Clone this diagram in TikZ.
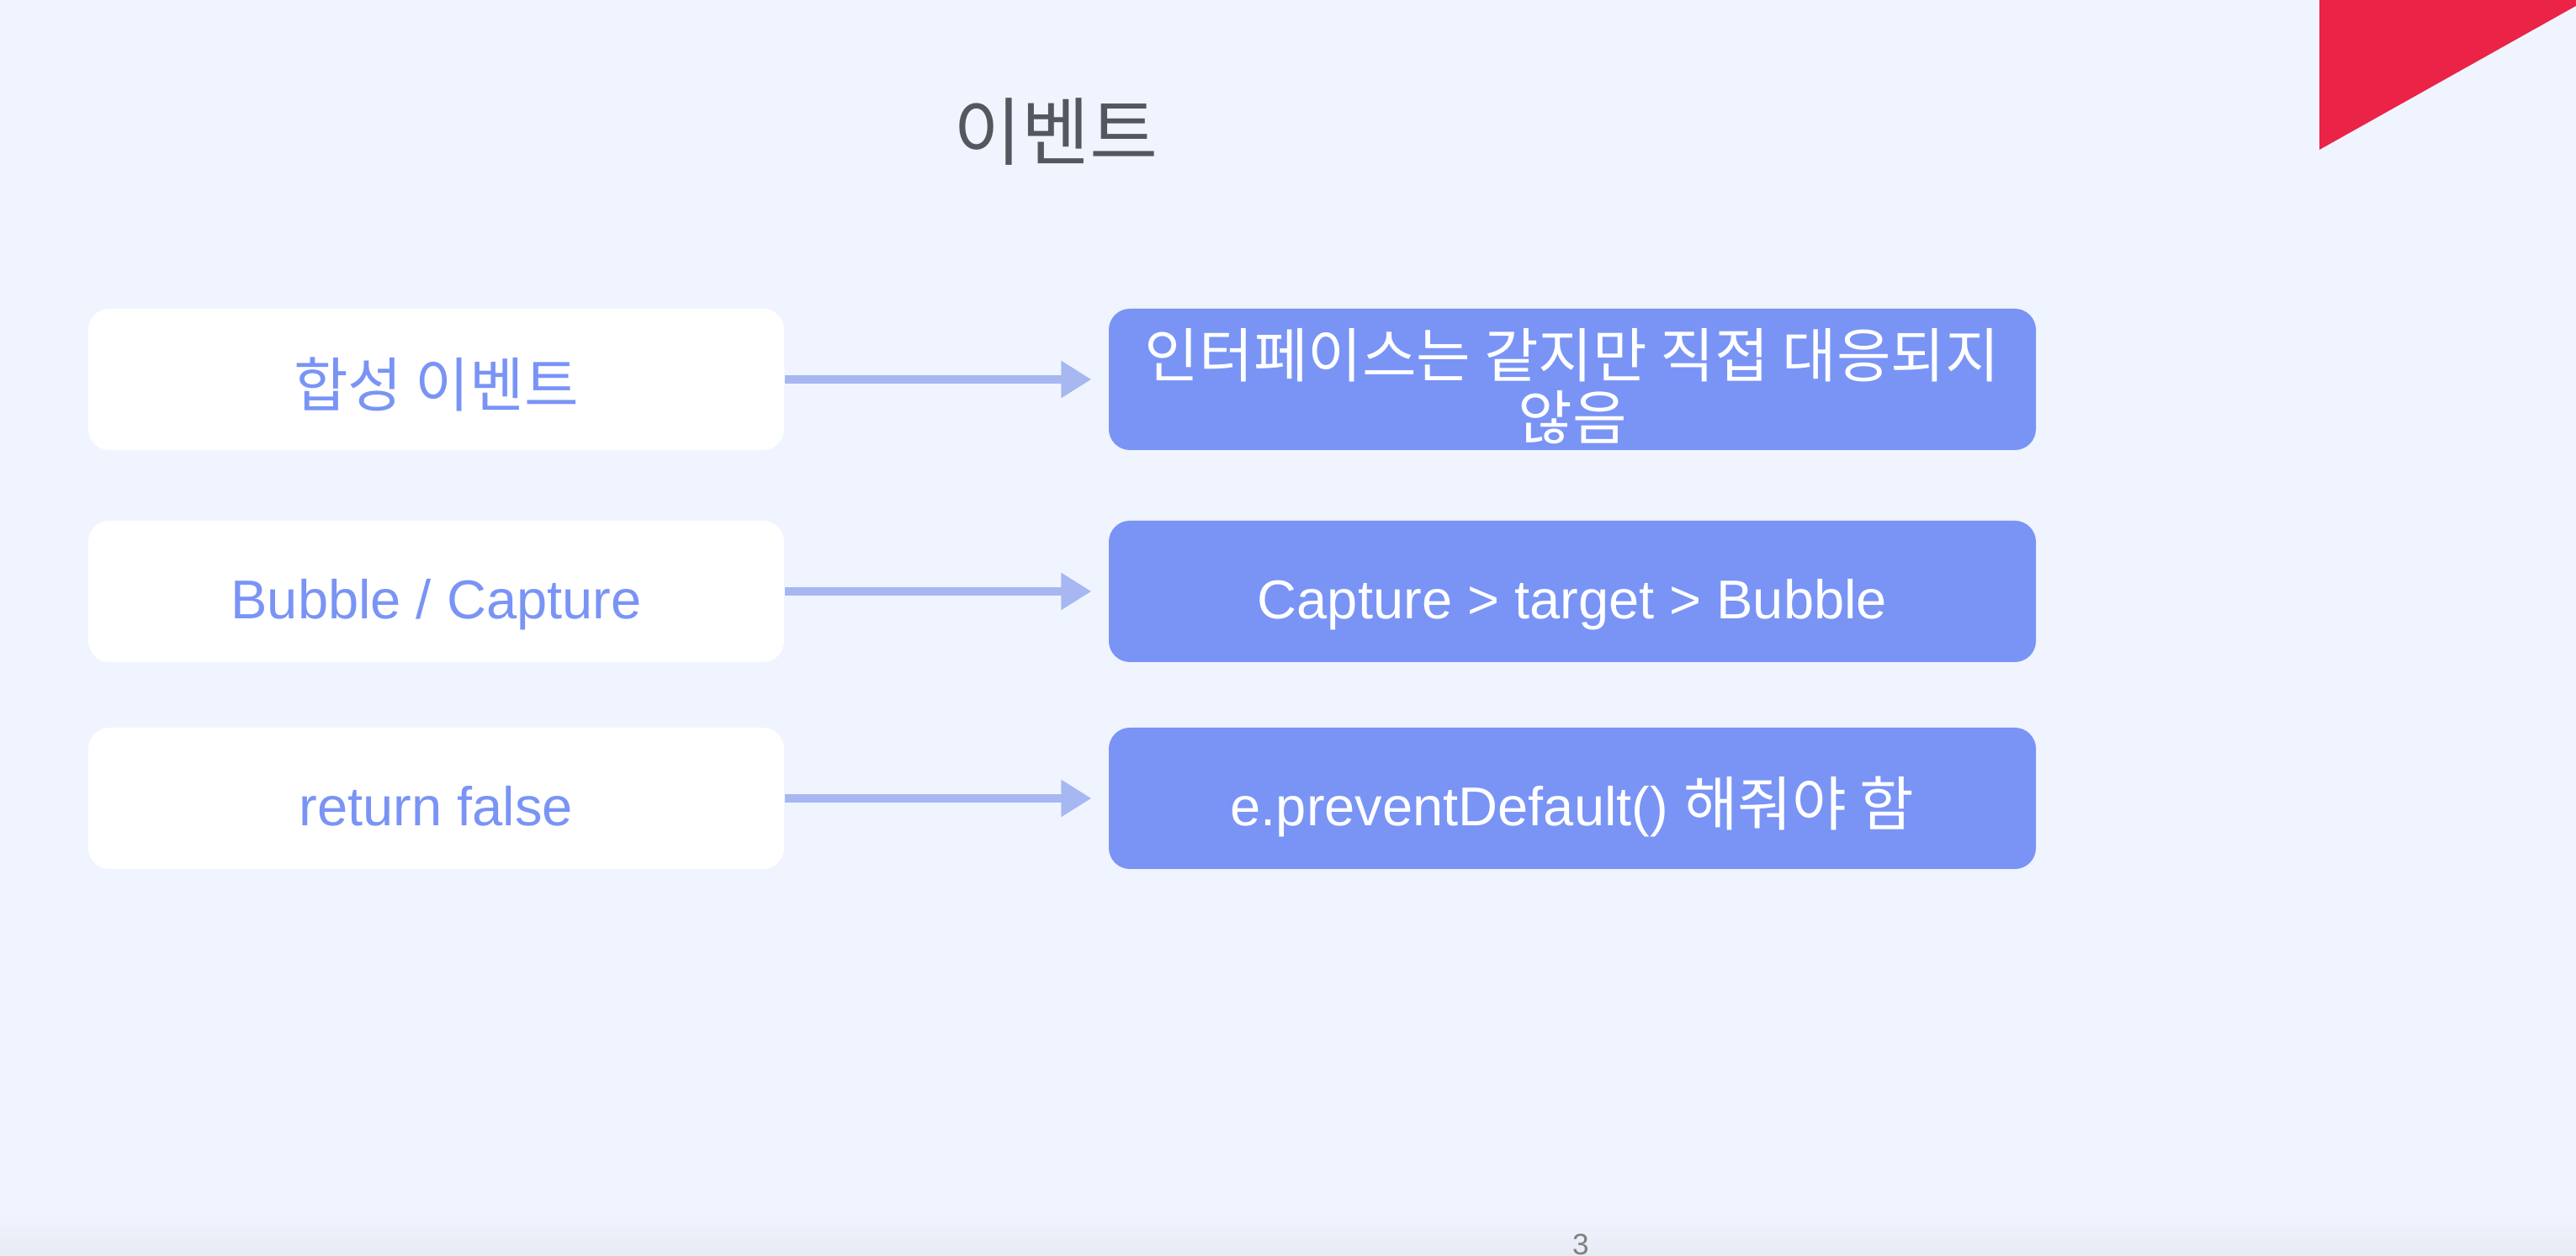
\documentclass[tikz,border=0pt]{standalone}
\usepackage{fontspec}
\setmainfont{Liberation Sans}
\newfontfamily\kr[Scale=1.08]{Noto Sans CJK KR}
\usetikzlibrary{arrows.meta,shapes}

\definecolor{fondo}{RGB}{240,244,254}
\definecolor{azul}{RGB}{121,148,245}
\definecolor{flecha}{RGB}{166,183,242}
\definecolor{rojo}{RGB}{234,35,71}
\definecolor{gris}{RGB}{84,87,94}

\begin{document}
\begin{tikzpicture}[x=1cm,y=1cm,
izq/.style ={rectangle, fill=white, align=center, rounded corners=0.25cm, minimum height=1.68cm, minimum width=8.27cm, text=azul, text height=0.66cm, text depth=0cm, font=\fontsize{18.5}{21.3}\selectfont},
der/.style ={rectangle, fill=azul, align=center, rounded corners=0.25cm, minimum height=1.68cm, minimum width=11.02cm, text=white, text height=0.66cm, text depth=0cm, font=\fontsize{18.5}{21.3}\selectfont},
flujo/.style ={draw=flecha, line width=0.1cm, -{Triangle[length=0.36cm,width=0.42cm]}, shorten >=0.2cm}]

\useasboundingbox (0,0) rectangle (30.62,14.93);
\fill[fondo] (0,0) rectangle (30.62,14.93);
\shade[top color=fondo, bottom color=fondo!92!gray] (0,0) rectangle (30.62,0.5);
\fill[rojo] (27.57,14.93) -- (30.62,14.93) -- (30.62,14.86) -- (27.57,13.15) -- cycle;

\draw (12.55,13.36) node[text=gris, font=\fontsize{23.2}{28}\selectfont] (Tit) {\kr 이벤트};

\draw (5.185,10.42) node[izq] (Syn) {\kr 합성 이벤트};
\draw (5.185,7.90) node[izq] (Bub) {Bubble / Capture};
\draw (5.185,5.44) node[izq] (Ret) {return false};

\draw (18.69,10.42) node[der, text height=1.44cm, text depth=0cm] (Inf) {\kr 인터페이스는 같지만 직접 대응되지\\\kr 않음};
\draw (18.69,7.90) node[der] (Cap) {Capture > target > Bubble};
\draw (18.69,5.44) node[der] (Prev) {e.preventDefault() {\kr 해줘야 함}};

\draw[flujo] (Syn)--(Inf);
\draw[flujo] (Bub)--(Cap);
\draw[flujo] (Ret)--(Prev);

\draw (18.79,0.135) node[text=gray, font=\fontsize{10}{12}\selectfont] (Pag) {3};

\end{tikzpicture}
\end{document}
